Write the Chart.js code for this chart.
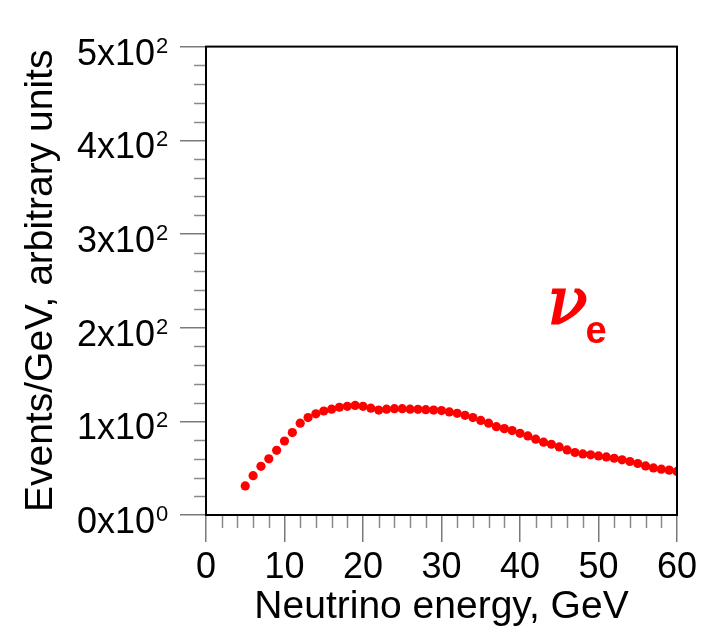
<!DOCTYPE html>
<html>
<head>
<meta charset="utf-8">
<script src="https://cdn.jsdelivr.net/npm/chart.js@4.4.1/dist/chart.umd.min.js"></script>
<style>
  html, body { margin: 0; padding: 0; background: #fff; }
  #wrap { width: 716px; height: 628px; }
</style>
</head>
<body>
<div id="wrap"><canvas id="chartCanvas" width="716" height="628"></canvas></div>
<script>
// Neutrino energy (GeV), one point per GeV
const energy = [5, 6, 7, 8, 9, 10, 11, 12, 13, 14, 15, 16, 17, 18, 19, 20,
  21, 22, 23, 24, 25, 26, 27, 28, 29, 30, 31, 32, 33, 34, 35, 36, 37, 38, 39, 40,
  41, 42, 43, 44, 45, 46, 47, 48, 49, 50, 51, 52, 53, 54, 55, 56, 57, 58, 59, 60];

// Events/GeV for nu_e
const eventsNuE = [31, 42, 52, 60, 69, 79, 88, 98, 104, 108, 111, 113, 115, 116, 117, 116,
  114, 112, 113, 113.5, 113.5, 113, 112.8, 112.4, 112, 111.5, 110, 108.5, 106.4, 104, 101, 98, 94.3, 92.2, 90.1, 87.2,
  84.4, 80.9, 77.7, 75.5, 72.7, 69.5, 66.7, 65.2, 64.2, 63.1, 62, 60.6, 58.9, 57.1, 55, 52.4, 50.3, 48.9, 47.9, 46.5];

// y tick labels: mantissa x10 and exponent
const yTickBase = { 0: '0x10', 100: '1x10', 200: '2x10', 300: '3x10', 400: '4x10', 500: '5x10' };
const yTickExp = { 0: '0', 100: '2', 200: '2', 300: '2', 400: '2', 500: '2' };

const FONT = "'Liberation Sans', Arial, sans-serif";

// frame, minor ticks, exponents and the nu_e label
const decorations = {
  id: 'decorations',
  afterDraw(chart) {
    const { ctx, chartArea: a, scales } = chart;
    const xs = scales.x, ys = scales.y;
    ctx.save();
    // minor ticks
    ctx.strokeStyle = '#8a8a8a';
    ctx.lineWidth = 1.5;
    ctx.beginPath();
    for (let v = 0; v <= 500; v += 20) {
      if (v % 100 === 0) continue;
      const py = Math.round(ys.getPixelForValue(v)) + 0.5;
      ctx.moveTo(a.left - 12, py);
      ctx.lineTo(a.left, py);
    }
    for (let v = 0; v <= 60; v += 2) {
      if (v % 10 === 0) continue;
      const px = Math.round(xs.getPixelForValue(v)) + 0.5;
      ctx.moveTo(px, a.bottom);
      ctx.lineTo(px, a.bottom + 13);
    }
    ctx.stroke();
    // frame
    ctx.strokeStyle = '#000';
    ctx.lineWidth = 2;
    ctx.strokeRect(a.left, a.top, a.right - a.left, a.bottom - a.top);
    // exponents of y tick labels
    ctx.fillStyle = '#000';
    ctx.font = '22px ' + FONT;
    ctx.textAlign = 'left';
    ctx.textBaseline = 'alphabetic';
    for (const v of Object.keys(yTickExp)) {
      const py = ys.getPixelForValue(Number(v));
      ctx.fillText(yTickExp[v], a.left - 50, py + 6);
    }
    // nu_e label
    ctx.fillStyle = '#ff0000';
    ctx.strokeStyle = '#ff0000';
    ctx.lineWidth = 2;
    const lx = xs.getPixelForValue(43.5), ly = ys.getPixelForValue(204);
    ctx.font = "italic 66px 'DejaVu Serif', serif";
    ctx.fillText('\u03BD', lx, ly);
    ctx.strokeText('\u03BD', lx, ly);
    ctx.font = "bold 38px " + FONT;
    ctx.fillText('e', lx + 38, ly + 19);
    ctx.restore();
  }
};

new Chart(document.getElementById('chartCanvas').getContext('2d'), {
  type: 'scatter',
  data: {
    datasets: [{
      label: 'nu_e',
      data: energy.map((e, i) => ({ x: e, y: eventsNuE[i] })),
      backgroundColor: '#ff0000',
      borderColor: '#ff0000',
      pointRadius: 4.6,
      pointBorderWidth: 0
    }]
  },
  options: {
    responsive: false,
    animation: false,
    layout: { padding: { top: 45, right: 39, left: 0, bottom: 0 } },
    plugins: { legend: { display: false }, tooltip: { enabled: false } },
    scales: {
      x: {
        type: 'linear', min: 0, max: 60,
        afterFit(s) { s.height = 113; },
        ticks: { stepSize: 10, color: '#000', padding: 4, font: { family: FONT, size: 36 } },
        grid: { drawOnChartArea: false, tickLength: 27, color: '#7a7a7a', lineWidth: 1.5 },
        border: { display: true, color: '#000', width: 2 },
        title: { display: true, text: 'Neutrino energy, GeV', color: '#000', padding: { top: 0, bottom: 0 },
                 font: { family: FONT, size: 39, lineHeight: 1.05 } }
      },
      y: {
        type: 'linear', min: 0, max: 500,
        afterFit(s) { s.width = 206; },
        ticks: { stepSize: 100, color: '#000', padding: 25, labelOffset: 8, font: { family: FONT, size: 36 },
                 callback: v => yTickBase[v] },
        grid: { drawOnChartArea: false, tickLength: 26, color: '#7a7a7a', lineWidth: 1.5 },
        border: { display: true, color: '#000', width: 2 },
        title: { display: true, text: 'Events/GeV, arbitrary units', color: '#000', padding: { top: 20, bottom: 0 },
                 font: { family: FONT, size: 39, lineHeight: 1.1 } }
      }
    }
  },
  plugins: [decorations]
});
</script>
</body>
</html>
